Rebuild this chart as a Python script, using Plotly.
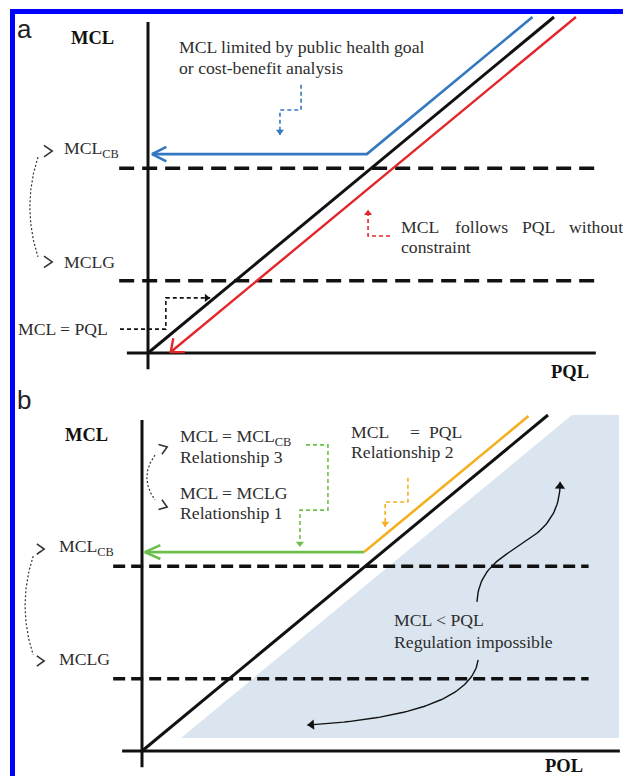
import numpy as np
import plotly.graph_objects as go

W, H = 623, 776

# ---------------- data (conceptual units: x = PQL, y = MCL; 1:1 line = "MCL = PQL") -------------
MCLG = 2.15            # MCLG threshold (dashed)
MCLCB = 5.5            # MCL_CB threshold (dashed)
MCL_EQ_PQL = 0.71      # level of the "MCL = PQL" pointer in panel a
THRESH_X = [-0.71, 11.0]

# panel a
a_axis_x = [-0.52, 11.03]
a_axis_y = [-0.48, 9.85]
a_diag_x = [0.0, 10.0]
a_diag_y = [0.0, 10.0]
a_blue_x = [0.10, 5.39, 9.47]
a_blue_y = [5.92, 5.92, 10.0]
a_red_x = [10.54, 0.56]
a_red_y = [10.0, 0.03]
a_blue_step_x = [3.77, 3.77, 3.25, 3.25]
a_blue_step_y = [7.98, 7.23, 7.23, 6.49]
a_red_step_x = [5.96, 5.42, 5.42]
a_red_step_y = [3.48, 3.48, 4.26]
a_black_step_x = [-0.69, 0.44, 0.44, 1.53]
a_black_step_y = [MCL_EQ_PQL, MCL_EQ_PQL, 1.64, 1.64]
a_arc_x = [-2.71, -3.11, -2.71]          # quadratic Bezier control points
a_arc_y = [5.83, 4.35, 2.86]
a_chev_x = [-2.36, -2.36]
a_chev_y = [6.01, 2.71]

# panel b
b_axis_x = [-0.49, 11.77]
b_axis_y = [-0.48, 9.85]
b_diag_x = [0.0, 10.0]
b_diag_y = [0.0, 10.0]
b_shade_x = [0.96, 10.59, 11.75, 11.75]
b_shade_y = [0.39, 10.0, 10.0, 0.39]
b_green_x = [0.07, 5.47]
b_green_y = [5.92, 5.92]
b_orange_x = [5.47, 9.52]
b_orange_y = [5.92, 9.97]
b_green_step_x = [4.04, 4.58, 4.58, 3.89, 3.89]
b_green_step_y = [9.11, 9.11, 7.17, 7.17, 6.07]
b_orange_step_x = [6.55, 6.55, 5.99, 5.99]
b_orange_step_y = [8.13, 7.41, 7.41, 6.67]
b_arc_x = [-2.68, -3.08, -2.68]
b_arc_y = [5.80, 4.33, 2.86]
b_chev_x = [-2.41, -2.41]
b_chev_y = [6.01, 2.68]
b_arc2_x = [0.32, -0.08, 0.32]
b_arc2_y = [8.81, 8.14, 7.47]
b_chev2_x = [0.62, 0.62]
b_chev2_y = [9.05, 7.26]
b_up_x = [8.25, 8.33, 10.30, 10.30]       # cubic Bezier control points
b_up_y = [4.44, 6.31, 5.86, 8.01]
b_down_x = [8.28, 8.08, 4.07]             # quadratic Bezier control points
b_down_y = [2.71, 1.07, 0.77]

# ---------------- colours ----------------
BLACK = "#111111"
TXT = "#2e2e2e"
BLUE = "#3478c0"
RED = "#e3262b"
GREEN = "#6cc04a"
ORANGE = "#f2b021"
SHADE = "#dbe5f0"
FRAME = "#0000ff"
SERIF = "Liberation Serif"
SANS = "Liberation Sans"
FS = 17.7
FB = 18.5

# ---------------- panel geometry ----------------
UX, UY = 40.6, 33.6
PANELS = {
    "a": dict(ox=148, oy=353, top=0, bottom=388, xa="x", ya="y"),
    "b": dict(ox=142, oy=751, top=388, bottom=776, xa="x2", ya="y2"),
}

fig = go.Figure()


def to_px(p, x, y):
    g = PANELS[p]
    return g["ox"] + np.asarray(x, float) * UX, g["oy"] - np.asarray(y, float) * UY


def to_data(p, X, Y):
    g = PANELS[p]
    return (np.asarray(X, float) - g["ox"]) / UX, (g["oy"] - np.asarray(Y, float)) / UY


def line(p, xs, ys, color, width, dash="solid", fill=None, fillcolor=None):
    g = PANELS[p]
    fig.add_trace(go.Scatter(x=list(xs), y=list(ys), mode="lines", xaxis=g["xa"], yaxis=g["ya"],
                             line=dict(color=color, width=width, dash=dash),
                             fill=fill, fillcolor=fillcolor, hoverinfo="skip", showlegend=False))


def direction(p, x0, y0, x1, y1):
    X0, Y0 = to_px(p, x0, y0)
    X1, Y1 = to_px(p, x1, y1)
    d = np.array([X1 - X0, Y1 - Y0], float)
    return d / np.hypot(*d)


def chevron(p, tx, ty, d, length, half_deg, color, width):
    TX, TY = to_px(p, tx, ty)
    xs, ys = [], []
    for s in (1, -1):
        a = np.radians(half_deg) * s
        rx = d[0] * np.cos(a) - d[1] * np.sin(a)
        ry = d[0] * np.sin(a) + d[1] * np.cos(a)
        xs.append(TX - length * rx)
        ys.append(TY - length * ry)
    X = [xs[0], TX, xs[1]]
    Y = [ys[0], TY, ys[1]]
    dx, dy = to_data(p, X, Y)
    line(p, dx, dy, color, width)


def head(p, tx, ty, d, size, color):
    TX, TY = to_px(p, tx, ty)
    CX, CY = TX - d[0] * size / 2, TY - d[1] * size / 2
    cx, cy = to_data(p, CX, CY)
    ang = float(np.degrees(np.arctan2(d[0], -d[1])))
    g = PANELS[p]
    fig.add_trace(go.Scatter(x=[float(cx)], y=[float(cy)], mode="markers", xaxis=g["xa"], yaxis=g["ya"],
                             marker=dict(symbol="triangle-up", size=size, angle=ang, color=color,
                                         line=dict(width=0)),
                             hoverinfo="skip", showlegend=False))


def step_arrow(p, xs, ys, color, size=7):
    line(p, xs, ys, color, 1.6, "4px,3px")
    d = direction(p, xs[-2], ys[-2], xs[-1], ys[-1])
    head(p, xs[-1], ys[-1], d, size, color)


def bezier(cx, cy, n=60):
    t = np.linspace(0, 1, n)[:, None]
    P = np.column_stack([cx, cy]).astype(float)
    k = len(P) - 1
    from math import comb
    B = sum(comb(k, i) * (1 - t) ** (k - i) * t ** i * P[i] for i in range(k + 1))
    return B[:, 0], B[:, 1]


# ================= panel a =================
p = "a"
line(p, THRESH_X, [MCLCB, MCLCB], BLACK, 3.5, "15px,8px")
line(p, THRESH_X, [MCLG, MCLG], BLACK, 3.5, "15px,8px")
line(p, a_axis_x, [0, 0], BLACK, 3)
line(p, [0, 0], a_axis_y, BLACK, 3)
line(p, a_diag_x, a_diag_y, BLACK, 3)
line(p, a_blue_x, a_blue_y, BLUE, 2.6)
chevron(p, a_blue_x[0], a_blue_y[0], direction(p, a_blue_x[1], a_blue_y[1], a_blue_x[0], a_blue_y[0]),
        16, 27, BLUE, 2.6)
line(p, a_red_x, a_red_y, RED, 2.4)
chevron(p, a_red_x[-1], a_red_y[-1], direction(p, a_red_x[0], a_red_y[0], a_red_x[-1], a_red_y[-1]),
        14, 40, RED, 2.4)
step_arrow(p, a_blue_step_x, a_blue_step_y, BLUE)
step_arrow(p, a_red_step_x, a_red_step_y, RED)
step_arrow(p, a_black_step_x, a_black_step_y, BLACK)
bx, by = bezier(a_arc_x, a_arc_y)
line(p, bx, by, "#333333", 1.2, "2px,2px")
for cx, cy in zip(a_chev_x, a_chev_y):
    chevron(p, cx, cy, np.array([1.0, 0.0]), 10, 35, "#333333", 1.6)

# ================= panel b =================
p = "b"
line(p, b_shade_x + [b_shade_x[0]], b_shade_y + [b_shade_y[0]], "rgba(0,0,0,0)", 0,
     fill="toself", fillcolor=SHADE)
line(p, THRESH_X, [MCLCB, MCLCB], BLACK, 3.5, "12px,6px")
line(p, THRESH_X, [MCLG, MCLG], BLACK, 3.5, "12px,6px")
line(p, b_axis_x, [0, 0], BLACK, 3)
line(p, [0, 0], b_axis_y, BLACK, 3)
line(p, b_diag_x, b_diag_y, BLACK, 3)
line(p, b_green_x, b_green_y, GREEN, 2.6)
chevron(p, b_green_x[0], b_green_y[0], direction(p, b_green_x[1], b_green_y[1], b_green_x[0], b_green_y[0]),
        17, 24, GREEN, 2.6)
line(p, b_orange_x, b_orange_y, ORANGE, 2.6)
step_arrow(p, b_green_step_x, b_green_step_y, GREEN)
step_arrow(p, b_orange_step_x, b_orange_step_y, ORANGE)
bx, by = bezier(b_arc_x, b_arc_y)
line(p, bx, by, "#333333", 1.2, "2px,2px")
for cx, cy in zip(b_chev_x, b_chev_y):
    chevron(p, cx, cy, np.array([1.0, 0.0]), 9, 35, "#333333", 1.6)
bx, by = bezier(b_arc2_x, b_arc2_y)
line(p, bx, by, "#333333", 1.2, "2px,2px")
for cx, cy, dy in zip(b_chev2_x, b_chev2_y, (-0.35, 0.35)):
    d = np.array([1.0, dy]); d /= np.hypot(*d)
    chevron(p, cx, cy, d, 9, 35, "#333333", 1.6)
ux, uy = bezier(b_up_x, b_up_y)
line(p, ux, uy, BLACK, 1.4)
head(p, b_up_x[-1], b_up_y[-1], direction(p, ux[-3], uy[-3], ux[-1], uy[-1]), 9, BLACK)
dx_, dy_ = bezier(b_down_x, b_down_y)
line(p, dx_, dy_, BLACK, 1.4)
head(p, b_down_x[-1], b_down_y[-1], direction(p, dx_[-3], dy_[-3], dx_[-1], dy_[-1]), 9, BLACK)

# ================= axes =================
for key, g in PANELS.items():
    xr = [(0 - g["ox"]) / UX, (W - g["ox"]) / UX]
    yr = [(g["oy"] - g["bottom"]) / UY, (g["oy"] - g["top"]) / UY]
    xname = "xaxis" if g["xa"] == "x" else "xaxis2"
    yname = "yaxis" if g["ya"] == "y" else "yaxis2"
    fig.update_layout({
        xname: dict(range=xr, domain=[0, 1], visible=False, anchor=g["ya"], fixedrange=True),
        yname: dict(range=yr, domain=[1 - g["bottom"] / H, 1 - g["top"] / H], visible=False,
                    anchor=g["xa"], fixedrange=True),
    })

# ================= text =================
ann = []


def txt(text, px, py, size=FS, anchor="left", color=TXT, family=SERIF):
    ann.append(dict(text=text, x=px / W, y=1 - py / H, xref="paper", yref="paper",
                    xanchor=anchor, yanchor="middle", showarrow=False,
                    font=dict(family=family, size=size, color=color)))


txt("a", 15, 29, 26, color="#222222", family=SANS)
txt("b", 15, 400, 26, color="#222222", family=SANS)
# panel a
txt("<b>MCL</b>", 92, 38, FB, "center", BLACK)
txt("<b>PQL</b>", 570, 372, FB, "center", BLACK)
txt("MCL limited by public health goal", 177, 47)
txt("or cost-benefit analysis", 177, 68)
txt("MCL<sub>CB</sub>", 62, 150)
txt("MCLG", 62, 262)
txt("MCL = PQL", 16, 329)
for w, x in zip(["MCL", "follows", "PQL", "without"], [399, 453, 520, 567]):
    txt(w, x, 227)
txt("constraint", 399, 247)
# panel b
txt("<b>MCL</b>", 86, 435, FB, "center", BLACK)
txt("<b>POL</b>", 564, 766, FB, "center", BLACK)
txt("MCL = MCL<sub>CB</sub>", 178, 437)
txt("Relationship 3", 178, 457)
txt("MCL = MCLG", 178, 493)
txt("Relationship 1", 178, 513)
for w, x in zip(["MCL", "=", "PQL"], [349, 408, 427]):
    txt(w, x, 432)
txt("Relationship 2", 349, 452)
txt("MCL<sub>CB</sub>", 57, 547)
txt("MCLG", 57, 659)
txt("MCL &lt; PQL", 392, 620)
txt("Regulation impossible", 392, 642)

# ================= blue frame =================
shapes = [
    dict(type="rect", xref="paper", yref="paper", x0=10 / W, x1=1, y0=1 - 14 / H, y1=1 - 9 / H,
         fillcolor=FRAME, line=dict(width=0), layer="above"),
    dict(type="rect", xref="paper", yref="paper", x0=10 / W, x1=15 / W, y0=0, y1=1 - 9 / H,
         fillcolor=FRAME, line=dict(width=0), layer="above"),
]

fig.update_layout(width=W, height=H, margin=dict(l=0, r=0, t=0, b=0),
                  paper_bgcolor="white", plot_bgcolor="white",
                  annotations=ann, shapes=shapes, showlegend=False)
fig.write_html("out.html", config={"displayModeBar": False},
               post_script="document.body.style.margin='0';document.body.style.overflow='hidden';")
